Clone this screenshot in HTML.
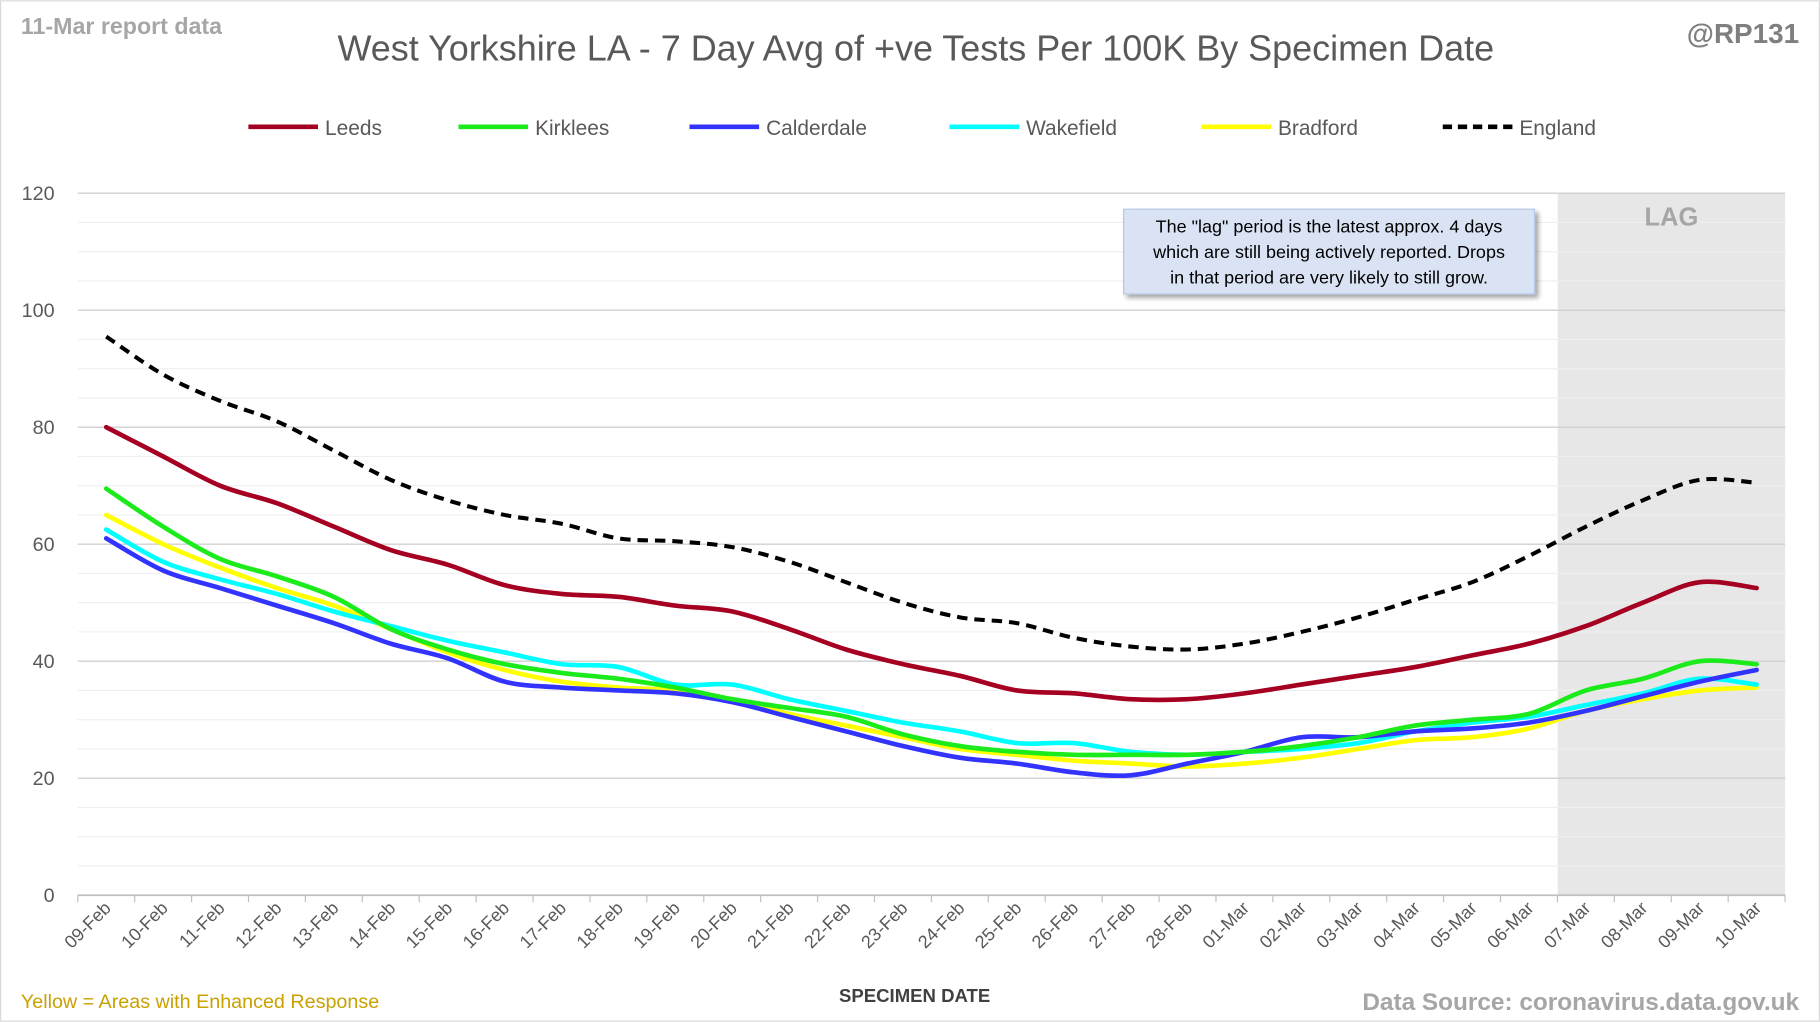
<!DOCTYPE html>
<html><head><meta charset="utf-8"><style>
html,body{margin:0;padding:0;background:#fff}
svg{display:block}
text{font-family:"Liberation Sans",sans-serif}
</style></head><body>
<svg id="s" width="1820" height="1022" viewBox="0 0 1568 880" xmlns="http://www.w3.org/2000/svg">
<defs><filter id="sh" x="-10%" y="-10%" width="130%" height="140%"><feDropShadow dx="3" dy="3" stdDeviation="2" flood-color="#000" flood-opacity="0.35"/></filter></defs>
<rect x="0.5" y="0.5" width="1567" height="879" fill="#fff" stroke="#d9d9d9"/>
<rect x="1342" y="166" width="196" height="605" fill="#e7e7e7"/>
<g id="grid"></g>
<text x="1440" y="194" font-size="22" font-weight="bold" fill="#a6a6a6" text-anchor="middle">LAG</text>
<text x="18" y="29" font-size="20" font-weight="bold" fill="#a6a6a6">11-Mar report data</text>
<text x="789" y="52" font-size="31" fill="#595959" text-anchor="middle">West Yorkshire LA - 7 Day Avg of +ve Tests Per 100K By Specimen Date</text>
<text x="1550" y="37" font-size="24" font-weight="bold" fill="#7f7f7f" text-anchor="end">@RP131</text>
<g font-size="18" fill="#595959">
<line x1="214" y1="109" x2="274" y2="109" stroke="#a50021" stroke-width="4"/><text x="280" y="116">Leeds</text>
<line x1="395" y1="109" x2="455" y2="109" stroke="#1bea1b" stroke-width="4"/><text x="461" y="116">Kirklees</text>
<line x1="594" y1="109" x2="654" y2="109" stroke="#3333ff" stroke-width="4"/><text x="660" y="116">Calderdale</text>
<line x1="818" y1="109" x2="878" y2="109" stroke="#00ffff" stroke-width="4"/><text x="884" y="116">Wakefield</text>
<line x1="1035" y1="109" x2="1095" y2="109" stroke="#ffff00" stroke-width="4"/><text x="1101" y="116">Bradford</text>
<line x1="1243" y1="109" x2="1303" y2="109" stroke="#000" stroke-width="4" stroke-dasharray="8,5"/><text x="1309" y="116">England</text>
</g>
<rect x="968" y="180" width="354" height="73" fill="#dae3f3" stroke="#b4c7e7" filter="url(#sh)"/>
<g font-size="15.5" fill="#000" text-anchor="middle">
<text x="1145" y="200">The "lag" period is the latest approx. 4 days</text>
<text x="1145" y="222">which are still being actively reported.  Drops</text>
<text x="1145" y="244">in that period are very likely to still grow.</text>
</g>
<g id="series"></g>
<text x="788" y="863" font-size="16" font-weight="bold" fill="#404040" text-anchor="middle">SPECIMEN DATE</text>
<text x="18" y="868" font-size="17" fill="#c9a100">Yellow = Areas with Enhanced Response</text>
<text x="1550" y="870" font-size="21" font-weight="bold" fill="#a6a6a6" text-anchor="end">Data Source: coronavirus.data.gov.uk</text>
</svg>
<script>
var NS="http://www.w3.org/2000/svg";
function el(p,t,a,txt){var e=document.createElementNS(NS,t);for(var k in a)e.setAttribute(k,a[k]);if(txt!=null)e.textContent=txt;p.appendChild(e);return e;}
var g=document.getElementById('grid'),S=document.getElementById('series');
var W=49.03;
function Y(v){return 771-5.04*v;}
function X(i){return 67+W*(i+0.5);}
for(var v=0;v<=120;v+=5){var maj=v%20==0;
 if(v>0)el(g,'line',{x1:67,x2:1538,y1:Y(v),y2:Y(v),stroke:maj?'#d0d0d0':'#efefef','stroke-width':maj?1.2:1});
 if(maj)el(g,'text',{x:47,y:Y(v)+6,'font-size':17,fill:'#595959','text-anchor':'end'},v);}
el(g,'line',{x1:67,x2:1538,y1:771,y2:771,stroke:'#bfbfbf','stroke-width':1.5});
var d=["09-Feb","10-Feb","11-Feb","12-Feb","13-Feb","14-Feb","15-Feb","16-Feb","17-Feb","18-Feb","19-Feb","20-Feb","21-Feb","22-Feb","23-Feb","24-Feb","25-Feb","26-Feb","27-Feb","28-Feb","01-Mar","02-Mar","03-Mar","04-Mar","05-Mar","06-Mar","07-Mar","08-Mar","09-Mar","10-Mar"];
for(var i=0;i<=30;i++){var x=67+W*i;el(g,'line',{x1:x,x2:x,y1:771,y2:777,stroke:'#bfbfbf'});}
d.forEach(function(t,i){var x=X(i)+5,y=783;el(g,'text',{x:x,y:y,'font-size':15.5,fill:'#595959','text-anchor':'end',transform:'rotate(-45 '+x+' '+y+')'},t);});
var data=[
["#a50021",0,[80,75,70,67,63,59,56.5,53,51.5,51,49.5,48.5,45.5,42,39.5,37.5,35,34.5,33.5,33.5,34.5,36,37.5,39,41,43,46,50,53.5,52.5]],
["#1bea1b",0,[69.5,63,57.5,54.5,51,45.5,42,39.5,38,37,35.5,33.5,32,30.5,27.5,25.5,24.5,24,24,24,24.5,25.5,27,29,30,31,35,37,40,39.5]],
["#3333ff",0,[61,55.5,52.5,49.5,46.5,43,40.5,36.5,35.5,35,34.5,33,30.5,28,25.5,23.5,22.5,21,20.5,22.5,24.5,27,27,28,28.5,29.5,31.5,34,36.5,38.5]],
["#00ffff",0,[62.5,57,54,51.5,48.5,46,43.5,41.5,39.5,39,36,36,33.5,31.5,29.5,28,26,26,24.5,24,24.5,25,26,28,29.5,30.5,32.5,34.5,37,36]],
["#ffff00",0,[65,60,56,52.5,49.5,45.5,41.5,38.5,36.5,35.5,35,33.5,31,29,27,25,24,23,22.5,22,22.5,23.5,25,26.5,27,28.5,31.5,33.5,35,35.5]],
["#000",1,[95.5,89,84.5,81,76,71,67.5,65,63.5,61,60.5,59.5,57,53.5,50,47.5,46.5,44,42.5,42,43,45,47.5,50.5,53.5,58,63,67.5,71,70.5]]];
[4,3,2,1,0,5].forEach(function(k){var s=data[k],v=s[2],p=v.map(function(y,i){return[X(i),Y(y)]});
 var str="M"+p[0][0]+","+p[0][1];
 for(var i=0;i<p.length-1;i++){var a=p[i-1]||p[i],b=p[i],c=p[i+1],e=p[i+2]||c;
  str+=" C"+(b[0]+(c[0]-a[0])/6)+","+(b[1]+(c[1]-a[1])/6)+" "+(c[0]-(e[0]-b[0])/6)+","+(c[1]-(e[1]-b[1])/6)+" "+c[0]+","+c[1];}
 var o={d:str,fill:'none',stroke:s[0],'stroke-width':s[1]?3.5:4,'stroke-linecap':'round'};
 if(s[1]){o['stroke-dasharray']='9,6';o['stroke-linecap']='butt';}
 el(S,'path',o);});
</script>
</body></html>
